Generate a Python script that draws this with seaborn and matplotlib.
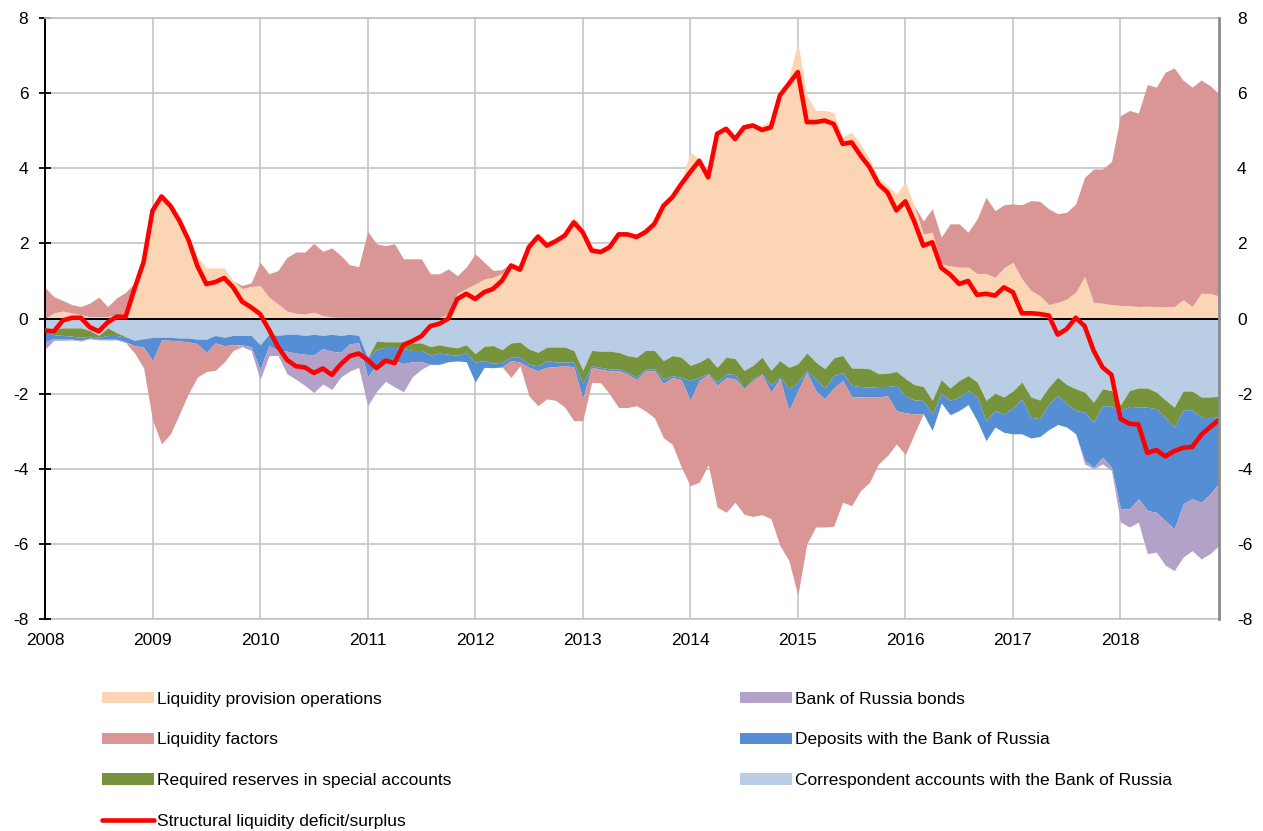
import numpy as np
import pandas as pd
import matplotlib
matplotlib.use('Agg')
import matplotlib.pyplot as plt
from matplotlib.lines import Line2D
import seaborn as sns

# monthly data, Jan 2008 - Dec 2018 (one row per year)
provision = (
    [0.0, 0.15, 0.2, 0.15, 0.1, 0.05, 0.05, 0.05, 0.1, 0.15, 0.95, 1.6]
    + [2.95, 3.3, 3.05, 2.7, 2.2, 1.65, 1.35, 1.35, 1.35, 1.0, 0.8, 0.85]
    + [0.88, 0.57, 0.39, 0.2, 0.14, 0.12, 0.17, 0.08, 0.04, 0.03, 0.03, 0.03]
    + [0.02, 0.02, 0.02, 0.02, 0.02, 0.02, 0.02, 0.02, 0.02, 0.12, 0.66, 0.8]
    + [0.92, 1.05, 1.1, 1.2, 1.5, 1.4, 2.0, 2.3, 2.05, 2.15, 2.3, 2.72]
    + [2.4, 1.9, 1.85, 2.0, 2.3, 2.3, 2.25, 2.4, 2.6, 3.1, 3.3, 3.65]
    + [4.43, 4.25, 3.9, 4.96, 5.1, 4.83, 5.14, 5.18, 5.14, 5.27, 5.94, 6.4]
    + [7.36, 5.94, 5.54, 5.54, 5.49, 4.83, 4.96, 4.65, 4.25, 3.76, 3.54, 3.32]
    + [3.63, 3.0, 2.25, 2.3, 1.46, 1.4, 1.37, 1.37, 1.2, 1.2, 1.1, 1.35]
    + [1.5, 1.06, 0.75, 0.61, 0.37, 0.43, 0.52, 0.7, 1.12, 0.43, 0.41, 0.37]
    + [0.35, 0.34, 0.32, 0.33, 0.32, 0.32, 0.32, 0.5, 0.32, 0.67, 0.67, 0.6]
)
factors = (
    [0.83, 0.43, 0.28, 0.22, 0.22, 0.36, 0.52, 0.27, 0.45, 0.55, -0.2, -0.55]
    + [-1.58, -2.77, -2.49, -1.94, -1.38, -0.89, -0.51, -0.73, -0.44, -0.15, 0.08, 0.1]
    + [0.62, 0.62, 0.89, 1.43, 1.63, 1.65, 1.83, 1.71, 1.84, 1.65, 1.4, 1.35]
    + [2.3, 1.97, 1.92, 1.97, 1.57, 1.57, 1.57, 1.17, 1.17, 1.2, 0.48, 0.57]
    + [0.8, 0.45, 0.18, 0.1, -0.45, -0.1, -0.76, -0.93, -0.84, -0.9, -1.11, -1.43]
    + [-0.59, -0.4, -0.36, -0.62, -0.98, -0.89, -0.69, -1.07, -1.25, -1.44, -1.78, -2.33]
    + [-2.27, -2.71, -2.4, -3.24, -3.58, -3.29, -3.33, -3.62, -3.73, -3.37, -4.44, -3.99]
    + [-5.45, -4.57, -3.63, -3.41, -3.68, -3.24, -2.9, -2.49, -2.27, -1.78, -1.6, -0.89]
    + [-1.11, -0.53, 0.35, 0.62, 0.71, 1.12, 1.15, 0.93, 1.45, 2.03, 1.77, 1.68]
    + [1.55, 1.97, 2.39, 2.51, 2.55, 2.36, 2.31, 2.35, 2.64, 3.55, 3.57, 3.81]
    + [5.05, 5.2, 5.15, 5.9, 5.84, 6.24, 6.35, 5.84, 5.84, 5.68, 5.53, 5.38]
)
corr_accounts = (
    [0.32, 0.28, 0.25, 0.25, 0.25, 0.32, 0.45, 0.25, 0.38, 0.48, 0.58, 0.54]
    + [0.5, 0.5, 0.5, 0.52, 0.52, 0.55, 0.55, 0.45, 0.5, 0.45, 0.45, 0.45]
    + [0.7, 0.42, 0.45, 0.42, 0.42, 0.45, 0.42, 0.45, 0.42, 0.45, 0.42, 0.45]
    + [1.05, 0.6, 0.62, 0.62, 0.62, 0.65, 0.65, 0.75, 0.7, 0.75, 0.78, 0.7]
    + [0.94, 0.74, 0.72, 0.83, 0.65, 0.63, 0.81, 0.9, 0.76, 0.76, 0.76, 0.85]
    + [1.38, 0.85, 0.87, 0.87, 0.9, 0.99, 1.03, 0.85, 0.85, 1.12, 0.99, 1.03]
    + [1.25, 1.16, 1.03, 1.3, 1.03, 1.07, 1.38, 1.25, 1.03, 1.38, 1.12, 1.3]
    + [1.21, 0.92, 1.16, 1.34, 1.05, 0.98, 1.32, 1.32, 1.34, 1.47, 1.46, 1.41]
    + [1.6, 1.76, 1.81, 2.18, 1.63, 1.85, 1.65, 1.52, 1.69, 2.18, 1.99, 2.09]
    + [1.93, 1.69, 2.09, 2.17, 1.83, 1.56, 1.76, 1.87, 1.96, 2.23, 1.87, 1.92]
    + [2.3, 1.92, 1.85, 1.85, 1.96, 2.17, 2.36, 1.93, 1.93, 2.09, 2.09, 2.07]
)
required_reserves = (
    [0.0, 0.15, 0.2, 0.22, 0.25, 0.15, 0.05, 0.2, 0.07, 0.02, 0.0, 0.0]
    + [0.0, 0.0, 0.0, 0.0, 0.0, 0.0, 0.0, 0.0, 0.0, 0.0, 0.0, 0.0]
    + [0.0, 0.0, 0.0, 0.0, 0.0, 0.0, 0.0, 0.0, 0.0, 0.0, 0.0, 0.0]
    + [0.0, 0.22, 0.15, 0.15, 0.18, 0.2, 0.2, 0.22, 0.22, 0.2, 0.2, 0.2]
    + [0.22, 0.38, 0.47, 0.33, 0.38, 0.4, 0.4, 0.36, 0.36, 0.4, 0.4, 0.31]
    + [0.35, 0.4, 0.43, 0.47, 0.44, 0.44, 0.53, 0.49, 0.49, 0.49, 0.53, 0.53]
    + [0.4, 0.4, 0.43, 0.39, 0.44, 0.42, 0.47, 0.36, 0.43, 0.38, 0.44, 0.57]
    + [0.48, 0.46, 0.45, 0.51, 0.47, 0.45, 0.46, 0.49, 0.49, 0.34, 0.35, 0.37]
    + [0.46, 0.41, 0.37, 0.36, 0.36, 0.33, 0.44, 0.4, 0.4, 0.54, 0.46, 0.45]
    + [0.45, 0.45, 0.54, 0.5, 0.44, 0.49, 0.51, 0.58, 0.53, 0.53, 0.45, 0.42]
    + [0.15, 0.42, 0.5, 0.51, 0.44, 0.46, 0.53, 0.5, 0.5, 0.54, 0.55, 0.54]
)
deposits = (
    [0.3, 0.1, 0.1, 0.08, 0.08, 0.05, 0.05, 0.1, 0.1, 0.12, 0.14, 0.22]
    + [0.62, 0.07, 0.08, 0.08, 0.1, 0.12, 0.35, 0.2, 0.22, 0.25, 0.25, 0.3]
    + [0.65, 0.3, 0.4, 0.45, 0.5, 0.5, 0.55, 0.35, 0.45, 0.45, 0.25, 0.2]
    + [0.5, 0.4, 0.3, 0.35, 0.4, 0.3, 0.3, 0.25, 0.3, 0.2, 0.15, 0.25]
    + [0.53, 0.18, 0.12, 0.13, 0.09, 0.13, 0.09, 0.13, 0.18, 0.12, 0.09, 0.13]
    + [0.4, 0.05, 0.05, 0.05, 0.05, 0.05, 0.07, 0.05, 0.05, 0.12, 0.05, 0.07]
    + [0.53, 0.09, 0.03, 0.09, 0.11, 0.11, 0.03, 0.04, 0.03, 0.2, 0.04, 0.58]
    + [0.23, 0.05, 0.31, 0.29, 0.33, 0.22, 0.3, 0.28, 0.26, 0.28, 0.24, 0.67]
    + [0.45, 0.37, 0.36, 0.44, 0.26, 0.38, 0.36, 0.37, 0.63, 0.53, 0.44, 0.49]
    + [0.69, 0.93, 0.55, 0.47, 0.69, 0.77, 0.62, 0.62, 1.29, 1.2, 1.37, 1.62]
    + [2.62, 2.73, 2.45, 2.75, 2.76, 2.75, 2.71, 2.5, 2.37, 2.26, 2.03, 1.77]
)
bonds = (
    [0.2, 0.05, 0.03, 0.02, 0.02, 0.02, 0.02, 0.02, 0.02, 0.02, 0.0, 0.0]
    + [0.0, 0.0, 0.0, 0.0, 0.0, 0.0, 0.0, 0.0, 0.0, 0.0, 0.05, 0.1]
    + [0.27, 0.27, 0.13, 0.6, 0.7, 0.83, 1.0, 0.94, 1.02, 0.66, 0.73, 0.65]
    + [0.77, 0.72, 0.6, 0.7, 0.75, 0.4, 0.2, 0.0, 0.0, 0.0, 0.0, 0.0]
    + [0.0] * 12
    + [0.0] * 12
    + [0.0] * 12
    + [0.0] * 12
    + [0.0] * 12
    + [0.0, 0.0, 0.0, 0.0, 0.0, 0.0, 0.0, 0.0, 0.09, 0.04, 0.18, 0.09]
    + [0.35, 0.48, 0.62, 1.15, 1.06, 1.19, 1.11, 1.42, 1.38, 1.51, 1.59, 1.66]
)
structural = (
    [-0.32, -0.34, -0.05, 0.02, 0.02, -0.23, -0.34, -0.1, 0.05, 0.05, 0.8, 1.5]
    + [2.87, 3.25, 3.0, 2.6, 2.1, 1.4, 0.92, 0.97, 1.08, 0.83, 0.45, 0.3]
    + [0.12, -0.3, -0.75, -1.1, -1.27, -1.3, -1.45, -1.33, -1.5, -1.22, -1.0, -0.93]
    + [-1.1, -1.32, -1.12, -1.19, -0.7, -0.6, -0.47, -0.2, -0.14, 0.0, 0.52, 0.66]
    + [0.52, 0.7, 0.79, 1.01, 1.41, 1.3, 1.9, 2.18, 1.94, 2.06, 2.21, 2.56]
    + [2.3, 1.81, 1.77, 1.9, 2.24, 2.24, 2.17, 2.3, 2.52, 3.0, 3.23, 3.58]
    + [3.9, 4.2, 3.76, 4.92, 5.05, 4.78, 5.09, 5.14, 5.02, 5.09, 5.94, 6.25]
    + [6.56, 5.23, 5.23, 5.27, 5.18, 4.65, 4.69, 4.34, 4.03, 3.58, 3.36, 2.88]
    + [3.12, 2.58, 1.94, 2.03, 1.35, 1.17, 0.92, 1.0, 0.63, 0.66, 0.61, 0.83]
    + [0.7, 0.14, 0.14, 0.12, 0.08, -0.43, -0.28, 0.02, -0.2, -0.85, -1.3, -1.5]
    + [-2.67, -2.8, -2.82, -3.58, -3.5, -3.67, -3.53, -3.44, -3.42, -3.1, -2.89, -2.7]
)
years = list(range(2008, 2019))
y_ticks = [-8, -6, -4, -2, 0, 2, 4, 6, 8]

df = pd.DataFrame({
    'provision': provision, 'factors': factors, 'corr': corr_accounts,
    'rr': required_reserves, 'dep': deposits, 'bonds': bonds, 'structural': structural,
})
df['t'] = 2008 + np.arange(len(df)) / 12

sns.set_theme(style='white')
plt.rcParams['font.family'] = ['Liberation Sans', 'DejaVu Sans']
plt.rcParams['axes.unicode_minus'] = False
plt.rcParams['text.color'] = 'black'

fig = plt.figure(figsize=(12.63, 8.31), dpi=100)
ax = fig.add_axes([0.0356, 0.2551, 0.9296, 0.7232])

# stacked levels
fac_pos = df['factors'].clip(lower=0)
fac_neg = df['factors'].clip(upper=0)
top_prov = df['provision']
top_fac = top_prov + fac_pos
l1 = -df['corr']
l2 = l1 - df['rr']
l3 = l2 - df['dep']
l4 = l3 - df['bonds']
l5 = l4 + fac_neg

c_prov, c_fac, c_rr = '#FCD5B5', '#D99694', '#77933C'
c_bonds, c_dep, c_corr = '#B3A2C7', '#558ED5', '#B9CDE5'

t = df['t']
h_prov = ax.fill_between(t, 0, top_prov, color=c_prov, lw=0)
h_fac = ax.fill_between(t, top_prov, top_fac, color=c_fac, lw=0)
h_corr = ax.fill_between(t, 0, l1, color=c_corr, lw=0)
h_rr = ax.fill_between(t, l1, l2, color=c_rr, lw=0)
h_dep = ax.fill_between(t, l2, l3, color=c_dep, lw=0)
h_bonds = ax.fill_between(t, l3, l4, color=c_bonds, lw=0)
ax.fill_between(t, l4, l5, color=c_fac, lw=0)

sns.lineplot(x=t, y=df['structural'], color='#FF0000', lw=3.3, ax=ax, zorder=5, legend=False)
h_line = Line2D([], [], color='#FF0000', lw=3.3)

ax.set_xlim(2008, t.iloc[-1])
ax.set_ylim(-8, 8)
ax.set_xticks(years)
ax.set_yticks(y_ticks)
ax.set_xlabel('')
ax.set_ylabel('')
ax.grid(True, color='#C0C0C0', lw=1.1)
ax.set_axisbelow(True)

ax.spines['bottom'].set_position(('data', 0))
ax.spines['bottom'].set_color('black')
ax.spines['bottom'].set_linewidth(1.4)
ax.spines['bottom'].set_zorder(4)
ax.spines['left'].set_color('black')
ax.spines['left'].set_linewidth(1.4)
ax.spines['top'].set_color('#C0C0C0')
ax.spines['right'].set_visible(False)
ax.tick_params(axis='x', direction='inout', length=9, width=1.3, color='black',
               labelbottom=False, bottom=True)
ax.tick_params(axis='y', direction='inout', length=8, width=1.3, color='black',
               left=True, labelsize=12.5, labelcolor='black', pad=8)

sec = ax.secondary_xaxis(0.0)
sec.set_xticks(years)
sec.tick_params(length=0, labelsize=12.5, labelcolor='black', pad=10)
sec.spines['bottom'].set_color('#C0C0C0')
sec.spines['bottom'].set_linewidth(1.1)

ax2 = ax.twinx()
ax2.set_ylim(-8, 8)
ax2.set_yticks(y_ticks)
ax2.tick_params(axis='y', length=0, labelsize=12.5, labelcolor='black', pad=13)
for s in ['top', 'left', 'bottom']:
    ax2.spines[s].set_visible(False)
ax2.spines['right'].set_color('#8C8C8C')
ax2.spines['right'].set_linewidth(2.0)
ax2.grid(False)

handles = [h_prov, h_fac, h_rr, h_line, h_bonds, h_dep, h_corr]
labels = ['Liquidity provision operations', 'Liquidity factors',
          'Required reserves in special accounts', 'Structural liquidity deficit/surplus',
          'Bank of Russia bonds', 'Deposits with the Bank of Russia',
          'Correspondent accounts with the Bank of Russia']
fig.legend(handles, labels, loc='upper left', bbox_to_anchor=(0.0735, 0.178), ncol=2,
           frameon=False, fontsize=12.5, handlelength=3.0, handleheight=0.65,
           handletextpad=0.2, labelspacing=1.48, columnspacing=16.6, borderpad=0)

fig.savefig('out.png', dpi=100)
